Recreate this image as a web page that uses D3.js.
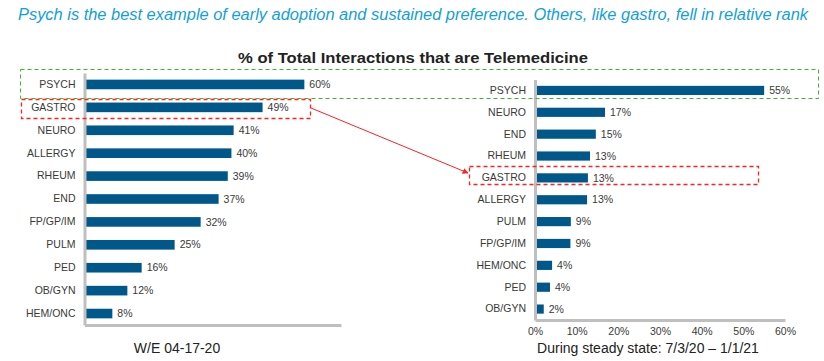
<!DOCTYPE html>
<html>
<head>
<meta charset="utf-8">
<script src="https://cdn.jsdelivr.net/npm/d3@7"></script>
<style>
  body { margin: 0; background: #fff; }
  svg text { font-family: "Liberation Sans", Arial, sans-serif; }
</style>
</head>
<body>
<svg id="chart" width="824" height="361"></svg>
<script>
// week ending 04-17-20
const leftCats = ['PSYCH', 'GASTRO', 'NEURO', 'ALLERGY', 'RHEUM', 'END', 'FP/GP/IM', 'PULM', 'PED', 'OB/GYN', 'HEM/ONC'];
const leftVals = [60, 48.6, 40.7, 40.1, 39.1, 36.6, 31.7, 24.6, 15.6, 11.7, 7.6];

// steady state 7/3/20 - 1/1/21
const rightCats = ['PSYCH', 'NEURO', 'END', 'RHEUM', 'GASTRO', 'ALLERGY', 'PULM', 'FP/GP/IM', 'HEM/ONC', 'PED', 'OB/GYN'];
const rightVals = [55, 16.8, 14.6, 13.2, 12.7, 12.5, 8.6, 8.5, 4.1, 3.6, 2.1];
const rightTicks = [0, 10, 20, 30, 40, 50, 60];

const barColor = '#00578a';
const axisColor = '#bfbfbf';
const textColor = '#3a3a3a';

const svg = d3.select('#chart');

// headline
svg.append('text')
    .attr('x', 18).attr('y', 20)
    .attr('fill', '#12a0dc')
    .attr('textLength', 790)
    .attr('lengthAdjust', 'spacingAndGlyphs')
    .style('font-family', '"Liberation Sans Narrow", "Arial Narrow", "Liberation Sans", sans-serif')
    .style('font-style', 'italic')
    .style('font-size', '16px')
    .text('Psych is the best example of early adoption and sustained preference. Others, like gastro, fell in relative rank');

// chart title
svg.append('text')
    .attr('x', 238).attr('y', 63)
    .attr('fill', '#222')
    .attr('textLength', 350)
    .attr('lengthAdjust', 'spacingAndGlyphs')
    .style('font-size', '14px')
    .style('font-weight', 'bold')
    .text('% of Total Interactions that are Telemedicine');

function drawPanel(cats, vals, opts) {
    const g = svg.append('g');
    const x = d3.scaleLinear().domain(opts.domain).range(opts.xRange);
    const y = d3.scaleBand().domain(cats).range(opts.yRange).paddingInner(0.58).paddingOuter(0.29);

    // bars
    g.selectAll('rect.bar')
        .data(cats)
        .enter()
        .append('rect')
        .attr('class', 'bar')
        .attr('x', x(0) + 1.5)
        .attr('y', d => y(d))
        .attr('width', (d, i) => x(vals[i]) - x(0) - 1.5)
        .attr('height', y.bandwidth())
        .attr('fill', barColor);

    // value labels
    g.selectAll('text.val')
        .data(cats)
        .enter()
        .append('text')
        .attr('class', 'val')
        .attr('x', (d, i) => x(vals[i]) + 5)
        .attr('y', d => y(d) + y.bandwidth() / 2)
        .attr('dy', '0.35em')
        .attr('fill', textColor)
        .style('font-size', '10.5px')
        .text((d, i) => Math.round(vals[i]) + '%');

    // y axis
    const yAxis = g.append('g')
        .attr('transform', `translate(${x(0)},0)`)
        .call(d3.axisLeft(y).tickSize(0).tickPadding(9));
    yAxis.select('.domain').attr('stroke', axisColor).attr('stroke-width', 3);
    yAxis.selectAll('text')
        .attr('fill', textColor)
        .style('font-family', '"Liberation Sans", Arial, sans-serif')
        .style('font-size', '10.5px');

    // x axis
    const xAxis = g.append('g')
        .attr('transform', `translate(0,${opts.yRange[1]})`)
        .call(d3.axisBottom(x)
            .tickValues(opts.ticks)
            .tickSize(0)
            .tickPadding(8)
            .tickFormat(d => d + '%'));
    xAxis.select('.domain').attr('stroke', axisColor).attr('stroke-width', 3);
    xAxis.selectAll('text')
        .attr('fill', textColor)
        .style('font-family', '"Liberation Sans", Arial, sans-serif')
        .style('font-size', '10.5px');

    // panel caption
    svg.append('text')
        .attr('x', opts.captionX).attr('y', 353)
        .attr('text-anchor', 'middle')
        .attr('fill', '#222')
        .style('font-size', '14px')
        .text(opts.caption);

    return {x, y};
}

const left = drawPanel(leftCats, leftVals, {
    domain: [0, 70], xRange: [84.5, 341], yRange: [73, 325], ticks: [],
    caption: 'W/E 04-17-20', captionX: 177
});

const right = drawPanel(rightCats, rightVals, {
    domain: [0, 60], xRange: [535, 785], yRange: [79.5, 320], ticks: rightTicks,
    caption: 'During steady state: 7/3/20 \u2013 1/1/21', captionX: 648
});

// highlight boxes
svg.append('rect')
    .attr('x', 20.5).attr('y', 69.5)
    .attr('width', 798).attr('height', 29)
    .attr('fill', 'none')
    .attr('stroke', '#3cb834')
    .attr('stroke-width', 1)
    .attr('stroke-dasharray', '4,3');

svg.append('rect')
    .attr('x', 21.5).attr('y', 99.5)
    .attr('width', 289).attr('height', 19)
    .attr('fill', 'none')
    .attr('stroke', '#ff2020')
    .attr('stroke-width', 1.3)
    .attr('stroke-dasharray', '4,3');

svg.append('rect')
    .attr('x', 469.5).attr('y', 166.5)
    .attr('width', 289).attr('height', 18)
    .attr('fill', 'none')
    .attr('stroke', '#ff2020')
    .attr('stroke-width', 1.3)
    .attr('stroke-dasharray', '4,3');

// arrow from left GASTRO to right GASTRO
svg.append('defs').append('marker')
    .attr('id', 'arrowhead')
    .attr('viewBox', '0 0 10 10')
    .attr('refX', 9).attr('refY', 5)
    .attr('markerWidth', 6).attr('markerHeight', 6)
    .attr('orient', 'auto')
    .append('path')
    .attr('d', 'M0,0 L10,5 L0,10 Z')
    .attr('fill', '#ff2020');

svg.append('line')
    .attr('x1', 311).attr('y1', 108)
    .attr('x2', 468).attr('y2', 173)
    .attr('stroke', '#ff2020')
    .attr('stroke-width', 1)
    .attr('marker-end', 'url(#arrowhead)');
</script>
</body>
</html>
